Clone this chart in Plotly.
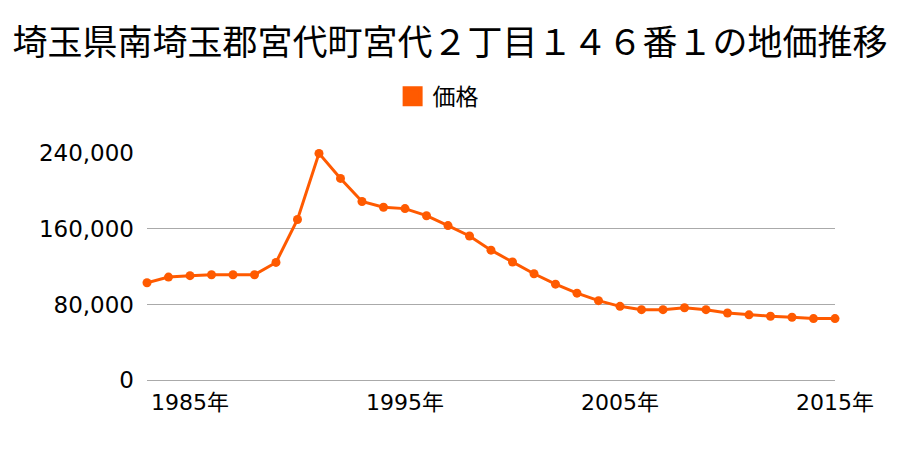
import plotly.graph_objects as go

years = list(range(1983, 2016))
prices = [103000, 109000, 110500, 111500, 111500, 111500, 124500, 170000, 240000,
          213500, 189000, 183000, 181500, 174000, 163500, 152500, 137500, 125000,
          112500, 101500, 92000, 84000, 78000, 74500, 74500, 76500, 74500, 71000,
          69000, 67500, 66500, 65000, 65000]
tick_years = [1985, 1995, 2005, 2015]
tick_labels = ["1985年", "1995年", "2005年", "2015年"]
y_ticks = [0, 80000, 160000, 240000]
y_labels = ["0", "80,000", "160,000", "240,000"]

color = "#ff5a00"
font = "Noto Sans CJK JP"
num_font = "DejaVu Sans, Noto Sans CJK JP"

fig = go.Figure()
fig.add_trace(go.Scatter(
    x=years, y=prices, mode="lines+markers", name="価格",
    line=dict(color=color, width=3),
    marker=dict(color=color, size=9, symbol="circle"),
    cliponaxis=False, showlegend=False,
))
fig.add_trace(go.Scatter(
    x=[None], y=[None], mode="markers", name="価格",
    marker=dict(color=color, size=16, symbol="square",
                line=dict(color=color, width=4)),
    showlegend=True,
))

fig.update_layout(
    width=900, height=450,
    margin=dict(l=147, r=65, t=153, b=70),
    paper_bgcolor="white", plot_bgcolor="white",
    font=dict(family=font, color="#000000", size=20),
    title=dict(text="埼玉県南埼玉郡宮代町宮代２丁目１４６番１の地価推移",
               x=0.5, xanchor="center", y=0.905, yanchor="middle",
               font=dict(size=35, family=font, color="#000000")),
    showlegend=True,
    legend=dict(orientation="h", x=0.357, xanchor="left", y=1.25, yanchor="middle",
                font=dict(size=23, family=font), itemsizing="trace"),
    xaxis=dict(range=[1983, 2015], tickmode="array", tickvals=tick_years,
               ticktext=tick_labels, showgrid=False, zeroline=False,
               showline=False, ticks="", tickfont=dict(size=22, family=num_font),
               ticklabelstandoff=7),
    yaxis=dict(range=[0, 240400], tickmode="array", tickvals=y_ticks,
               ticktext=y_labels, showgrid=True, gridcolor="#aaaaaa", gridwidth=1,
               zeroline=True, zerolinecolor="#aaaaaa", zerolinewidth=1,
               showline=False, ticks="",
               tickfont=dict(size=23, family=num_font), ticklabelstandoff=12),
)

fig.write_html("out.html")
